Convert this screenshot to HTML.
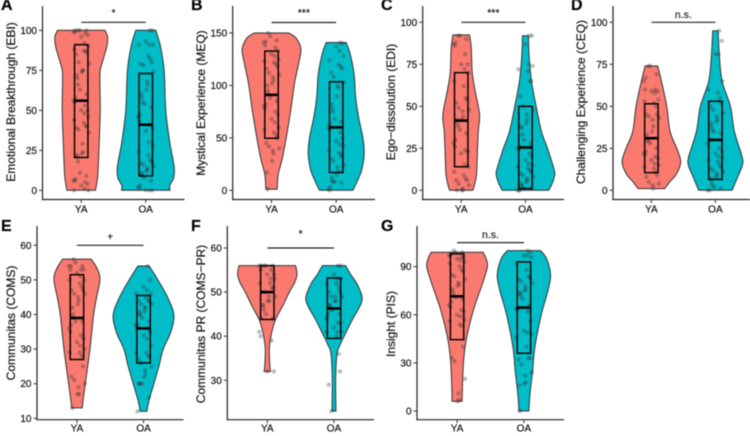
<!DOCTYPE html>
<html lang="en">
<head>
<meta charset="utf-8">
<title>Violin plots by age group</title>
<style>
  html, body { margin: 0; padding: 0; background: #fff; }
  #chart { display: block; width: 750px; height: 436px; filter: blur(0.4px); font-family: "Liberation Sans", sans-serif; }
  #chart text { stroke: #111; stroke-width: 0.18px; }
</style>
</head>
<body>
<svg id="chart" xmlns="http://www.w3.org/2000/svg" width="750" height="436" viewBox="0 0 750 436"></svg>
<script>
const categories = ['YA', 'OA'];
const fillColors = ['#FB7A70', '#00BDC8'];

// Shared horizontal jitter, as a fraction of one category step
const jitterOffsets = [-0.05, 0.09, -0.1, 0.03, 0.11, -0.02, -0.08, 0.06, 0.01, -0.11, 0.08, -0.04, 0.1, -0.07, 0.04, -0.09, 0.12, 0, -0.06, 0.07, -0.12, 0.02, 0.05];

// A: Emotional Breakthrough
const ebiTicks = [0, 25, 50, 75, 100];
const ebiDensityYA = [[0,43],[5,47],[10,50],[25,53],[50,57],[67,56],[75,57],[82,66],[90,77],[96,79],[100,71]];
const ebiDensityOA = [[0,73],[3,72],[8,84],[15,85],[30,72],[50,60],[75,55],[90,44],[100,30]];
const ebiBoxYA = [20.5, 56, 91];
const ebiBoxOA = [9, 41, 73];
const ebiPointsYA = [100,100,100,100,99,99,98,97,96,92,90,88,87,87,86,85,80,79,75,75,74,72,70,66,63,60,58,56,55,53,50,50,48,46,44,42,40,40,39,38,36,29,24,23,22,21,18,11,9,7,6,6,5,4,3,1,0,0];
const ebiPointsOA = [100,100,93,91,91,91,84,82,80,79,78,74,68,66,63,60,58,55,54,52,47,46,43,41,39,37,30,28,24,22,19,18,17,16,15,14,13,12,11,10,9,8,6,3,2,1,0,0,0];

// B: Mystical Experience
const meqTicks = [0, 50, 100, 150];
const meqDensityYA = [[1,17],[15,20],[30,32],[50,44],[75,57],[100,68],[110,74],[125,84],[135,88],[145,74],[150,52]];
const meqDensityOA = [[0,50],[10,65],[20,77],[35,84],[50,80],[70,67],[90,58],[110,54],[130,42],[141,30]];
const meqBoxYA = [49.6, 91, 132.8];
const meqBoxOA = [17, 60, 103.5];
const meqPointsYA = [150,147,143,142,141,138,136,133,130,128,125,123,122,120,118,116,112,110,108,105,102,100,95,92,88,85,82,80,78,75,72,68,65,60,58,55,52,50,45,42,40,38,35,28,17,1];
const meqPointsOA = [141,140,137,133,128,124,120,118,116,112,108,103,100,98,90,82,78,75,68,65,63,60,58,55,50,47,44,42,38,36,34,32,30,28,24,22,18,15,12,9,8,8,7,3,1,0];

// C: Ego-dissolution
const ediTicks = [0, 25, 50, 75, 100];
const ediDensityYA = [[0,35],[5,42],[10,46],[20,48],[35,51],[45,55],[60,41],[70,33],[85,30],[92.5,25]];
const ediDensityOA = [[0,70],[5,82],[10,88],[15,82],[25,66],[35,48],[50,32],[65,18],[80,11],[92,9]];
const ediBoxYA = [14, 41.5, 70];
const ediBoxOA = [1, 25.5, 50];
const ediPointsYA = [92,92,90,88,87,86,81,75,75,72,70,65,62,55,54,52,49,48,47,44,42,42,40,38,36,34,30,28,26,24,23,22,15,14,11,9,7,6,6,4,3,1,0,0,0];
const ediPointsOA = [92,92,87,75,74,72,71,65,65,56,50,48,45,42,40,38,37,33,30,28,26,25,24,22,20,18,16,15,14,13,12,11,10,9,8,7,6,5,4,3,2,1,1,0,0,0];

// D: Challenging Experience
const ceqTicks = [0, 25, 50, 75, 100];
const ceqDensityYA = [[1,40],[5,55],[10,76],[17,88],[25,76],[35,56],[50,46],[65,30],[74,19]];
const ceqDensityOA = [[0,50],[8,67],[15,81],[20,80],[35,57],[50,45],[65,20],[80,12],[95,8]];
const ceqBoxYA = [10.5, 31, 51.5];
const ceqBoxOA = [6.5, 30, 53];
const ceqPointsYA = [74,74,69,67,65,60,60,59,59,58,54,53,52,50,45,45,44,43,42,38,35,33,30,29,28,25,23,22,21,20,19,18,16,15,14,13,11,9,8,5,4,3,1];
const ceqPointsOA = [95,89,81,81,65,60,58,55,52,50,48,46,44,42,41,40,38,36,35,34,30,28,26,25,23,22,20,19,18,17,15,14,13,12,11,10,9,8,7,5,3,2,1,0,0];

// E: Communitas
const comsTicks = [10, 20, 30, 40, 50, 60];
const comsDensityYA = [[13,16],[15,18],[20,25],[30,39],[40,50],[45,59],[50,69],[53,62],[56,43]];
const comsDensityOA = [[12,10],[15,16],[20,31],[25,46],[30,59],[35,82],[40,91],[45,72],[50,43],[54,17]];
const comsBoxYA = [27, 39, 51.5];
const comsBoxOA = [26, 36, 45.5];
const comsPointsYA = [56,55,54,54,54,53,53,53,52,51,50,50,49,48,47,47,46,46,45,44,43,42,40,39,38,38,37,36,35,34,33,32,31,30,29,29,28,25,22,21,20,19,17,17,13];
const comsPointsOA = [54,50,48,47,46,46,45,44,44,44,43,43,42,42,41,41,40,40,39,38,37,37,36,36,35,34,33,31,29,29,28,28,27,26,25,24,23,22,20,20,20,20,16,12];

// F: Communitas PR
const comsPrTicks = [30, 40, 50, 60];
const comsPrDensityYA = [[32,10],[33,8],[37,6],[40,11],[42,17],[44,26],[47,47],[50,66],[52,81],[54,89],[56,85]];
const comsPrDensityOA = [[23,6],[30,5],[36,9],[38,18],[41,37],[44,57],[47,79],[49,84],[52,68],[54,50],[56,35]];
const comsPrBoxYA = [43.8, 50, 56];
const comsPrBoxOA = [39.5, 46.3, 53.2];
const comsPrPointsYA = [56,56,56,56,56,55,55,54,54,53,53,52,52,51,51,50,50,49,49,48,48,47,47,46,45,44,44,41,40,39,32,32];
const comsPrPointsOA = [56,56,54,53,53,52,52,51,50,50,49,49,49,48,48,47,47,46,46,45,45,44,44,43,43,42,41,41,41,40,36,32,29,23];

// G: Insight
const pisTicks = [0, 30, 60, 90];
const pisDensityYA = [[6,15],[15,16],[30,19],[40,24],[50,33],[65,52],[80,77],[90,91],[95,87],[99,78]];
const pisDensityOA = [[0,15],[10,18],[25,26],[40,33],[60,52],[75,72],[85,80],[95,68],[100,50]];
const pisBoxYA = [44.5, 71.5, 98];
const pisBoxOA = [36, 64.5, 93];
const pisPointsYA = [100,99,99,98,97,97,96,96,95,94,93,92,90,88,87,85,84,82,80,79,78,76,74,72,71,70,68,66,65,63,62,60,59,57,56,54,53,40,33,31,20,11,7,6];
const pisPointsOA = [100,99,97,97,96,92,88,84,83,82,81,80,78,76,75,74,73,72,70,66,64,64,63,62,56,50,49,48,46,40,33,33,32,29,24,22,18,17,16,0];

const panels = [
  { key: 'a', letter: 'A', title: 'Emotional Breakthrough (EBI)', ticks: ebiTicks, density: [ebiDensityYA, ebiDensityOA], box: [ebiBoxYA, ebiBoxOA], points: [ebiPointsYA, ebiPointsOA], sig: '*', sigValue: 105,
    frame: { left: 42.5, right: 184.5, top: 6, bottom: 199.5, v0: 0, p0: 190.3, v1: 100, p1: 30.3, letterX: 1, letterY: 10, titleX: 15, titleY: 102, sigTextY: 16, tickTextY: 212.5 } },
  { key: 'b', letter: 'B', title: 'Mystical Experience (MEQ)', ticks: meqTicks, density: [meqDensityYA, meqDensityOA], box: [meqBoxYA, meqBoxOA], points: [meqPointsYA, meqPointsOA], sig: '***', sigValue: 160,
    frame: { left: 232.7, right: 375, top: 6, bottom: 199.5, v0: 0, p0: 190.3, v1: 150, p1: 33, letterX: 191, letterY: 10, titleX: 205, titleY: 103, sigTextY: 16, tickTextY: 212.5 } },
  { key: 'c', letter: 'C', title: 'Ego\u2212dissolution (EDI)', ticks: ediTicks, density: [ediDensityYA, ediDensityOA], box: [ediBoxYA, ediBoxOA], points: [ediPointsYA, ediPointsOA], sig: '***', sigValue: 100,
    frame: { left: 422.7, right: 564, top: 6, bottom: 199.5, v0: 0, p0: 190.3, v1: 100, p1: 22.3, letterX: 381, letterY: 10, titleX: 395, titleY: 102, sigTextY: 16, tickTextY: 212.5 } },
  { key: 'd', letter: 'D', title: 'Challenging Experience (CEQ)', ticks: ceqTicks, density: [ceqDensityYA, ceqDensityOA], box: [ceqBoxYA, ceqBoxOA], points: [ceqPointsYA, ceqPointsOA], sig: 'n.s.', sigValue: 100,
    frame: { left: 613, right: 750, top: 6, bottom: 199.5, v0: 0, p0: 190.3, v1: 100, p1: 22.3, step: 64, letterX: 571, letterY: 10, titleX: 585, titleY: 102, sigTextY: 18, tickTextY: 212.5 } },
  { key: 'e', letter: 'E', title: 'Communitas (COMS)', ticks: comsTicks, density: [comsDensityYA, comsDensityOA], box: [comsBoxYA, comsBoxOA], points: [comsPointsYA, comsPointsOA], sig: '+', sigValue: 60,
    frame: { left: 37, right: 183.5, top: 226, bottom: 419.7, v0: 10, p0: 418.3, v1: 60, p1: 245.3, letterX: 1, letterY: 231, titleX: 15, titleY: 323, sigTextY: 240, tickTextY: 431.5 } },
  { key: 'f', letter: 'F', title: 'Communitas PR (COMS\u2212PR)', ticks: comsPrTicks, density: [comsPrDensityYA, comsPrDensityOA], box: [comsPrBoxYA, comsPrBoxOA], points: [comsPrPointsYA, comsPrPointsOA], sig: '*', sigValue: 60,
    frame: { left: 227.3, right: 374, top: 226, bottom: 419.7, v0: 30, p0: 380.3, v1: 60, p1: 248, letterX: 191, letterY: 231, titleX: 205, titleY: 324, sigTextY: 237, tickTextY: 431.5 } },
  { key: 'g', letter: 'G', title: 'Insight (PIS)', ticks: pisTicks, density: [pisDensityYA, pisDensityOA], box: [pisBoxYA, pisBoxOA], points: [pisPointsYA, pisPointsOA], sig: 'n.s.', sigValue: 105,
    frame: { left: 417, right: 564, top: 226, bottom: 419.7, v0: 0, p0: 411, v1: 90, p1: 266.7, letterX: 381, letterY: 231, titleX: 395, titleY: 324, sigTextY: 238, tickTextY: 431.5 } }
];

const SVG_NS = 'http://www.w3.org/2000/svg';
const root = document.getElementById('chart');

function make(tag, parent, attrs, text) {
  const node = document.createElementNS(SVG_NS, tag);
  for (const k in attrs) node.setAttribute(k, attrs[k]);
  if (text !== undefined) node.textContent = text;
  parent.appendChild(node);
  return node;
}

function yScale(frame, value) {
  return frame.p0 + (value - frame.v0) * (frame.p1 - frame.p0) / (frame.v1 - frame.v0);
}

function categoryStep(frame) {
  return frame.step || (frame.right - frame.left) / 2.2;
}

function xScale(frame, position) {
  return frame.left + (position + 0.6) * categoryStep(frame);
}

function widthScale(density) {
  return density / 3;
}

function smoothSegments(pts) {
  let d = '';
  for (let i = 0; i < pts.length - 1; i++) {
    const p0 = pts[Math.max(i - 1, 0)];
    const p1 = pts[i];
    const p2 = pts[i + 1];
    const p3 = pts[Math.min(i + 2, pts.length - 1)];
    const c1x = p1[0] + (p2[0] - p0[0]) / 6;
    const c1y = p1[1] + (p2[1] - p0[1]) / 6;
    const c2x = p2[0] - (p3[0] - p1[0]) / 6;
    const c2y = p2[1] - (p3[1] - p1[1]) / 6;
    d += 'C' + c1x.toFixed(2) + ' ' + c1y.toFixed(2) + ' ' + c2x.toFixed(2) + ' ' + c2y.toFixed(2) + ' ' + p2[0].toFixed(2) + ' ' + p2[1].toFixed(2);
  }
  return d;
}

function violinPath(frame, cx, profile) {
  const leftSide = profile.map(function (r) { return [cx - widthScale(r[1]), yScale(frame, r[0])]; });
  const rightSide = profile.map(function (r) { return [cx + widthScale(r[1]), yScale(frame, r[0])]; }).reverse();
  return 'M' + leftSide[0][0].toFixed(2) + ' ' + leftSide[0][1].toFixed(2) + smoothSegments(leftSide) +
    'L' + rightSide[0][0].toFixed(2) + ' ' + rightSide[0][1].toFixed(2) + smoothSegments(rightSide) + 'Z';
}

panels.forEach(function (p) {
  const f = p.frame;
  const step = categoryStep(f);
  const boxHalf = 6.7;

  const group = make('g', root, {});
  
  

  categories.forEach(function (cat, c) {
    const cx = xScale(f, c);
    const series = cat.toLowerCase();

    const violin = make('path', group, { d: violinPath(f, cx, p.density[c]), fill: fillColors[c], stroke: '#2f3335', 'stroke-width': 1, 'stroke-linejoin': 'round' });
    
    

    p.points[c].forEach(function (value, i) {
      const jitter = jitterOffsets[(i * 5 + c * 7) % jitterOffsets.length];
      const dot = make('circle', group, { cx: (cx + jitter * step).toFixed(2), cy: yScale(f, value).toFixed(2), r: 2.2, fill: '#333', 'fill-opacity': 0.32 });
      
      
    });

    const yQ3 = yScale(f, p.box[c][2]);
    const yQ1 = yScale(f, p.box[c][0]);
    const box = make('rect', group, { x: cx - boxHalf, y: yQ3, width: boxHalf * 2, height: yQ1 - yQ3, fill: 'none', stroke: '#050505', 'stroke-width': 1.5 });
    
    

    const yMed = yScale(f, p.box[c][1]);
    const median = make('line', group, { x1: cx - boxHalf, x2: cx + boxHalf, y1: yMed, y2: yMed, stroke: '#000', 'stroke-width': 2.6 });
    
    

    const xTick = make('line', group, { x1: cx, x2: cx, y1: f.bottom, y2: f.bottom + 3.5, stroke: '#333', 'stroke-width': 1 });
    
    

    const xLabel = make('text', group, { x: cx, y: f.tickTextY, 'text-anchor': 'middle', 'font-size': 10, fill: '#111' }, cat);
    
    
  });

  const yAxis = make('line', group, { x1: f.left, x2: f.left, y1: f.top, y2: f.bottom + 0.6, stroke: '#222', 'stroke-width': 1.2 });
  
  

  const xAxis = make('line', group, { x1: f.left - 0.6, x2: f.right, y1: f.bottom, y2: f.bottom, stroke: '#222', 'stroke-width': 1.2 });
  
  

  p.ticks.forEach(function (tick) {
    const ty = yScale(f, tick);
    const tickMark = make('line', group, { x1: f.left - 3.5, x2: f.left, y1: ty, y2: ty, stroke: '#333', 'stroke-width': 1 });
    
    

    const tickLabel = make('text', group, { x: f.left - 5.5, y: ty + 3.5, 'text-anchor': 'end', 'font-size': 10, fill: '#111' }, String(tick));
    
    
  });

  const title = make('text', group, { transform: 'translate(' + f.titleX + ' ' + f.titleY + ') rotate(-90)', 'text-anchor': 'middle', 'font-size': 12, fill: '#111' }, p.title);
  
  

  const letter = make('text', group, { x: f.letterX, y: f.letterY, 'font-size': 16, 'font-weight': 'bold', fill: '#000' }, p.letter);
  
  

  const sy = yScale(f, p.sigValue);
  const sigLine = make('line', group, { x1: xScale(f, 0), x2: xScale(f, 1), y1: sy, y2: sy, stroke: '#222', 'stroke-width': 1.2 });
  
  

  const sigLabel = make('text', group, { x: (xScale(f, 0) + xScale(f, 1)) / 2, y: f.sigTextY, 'text-anchor': 'middle', 'font-size': 10.5, fill: '#222' }, p.sig);
  
  
});
</script>
</body>
</html>
